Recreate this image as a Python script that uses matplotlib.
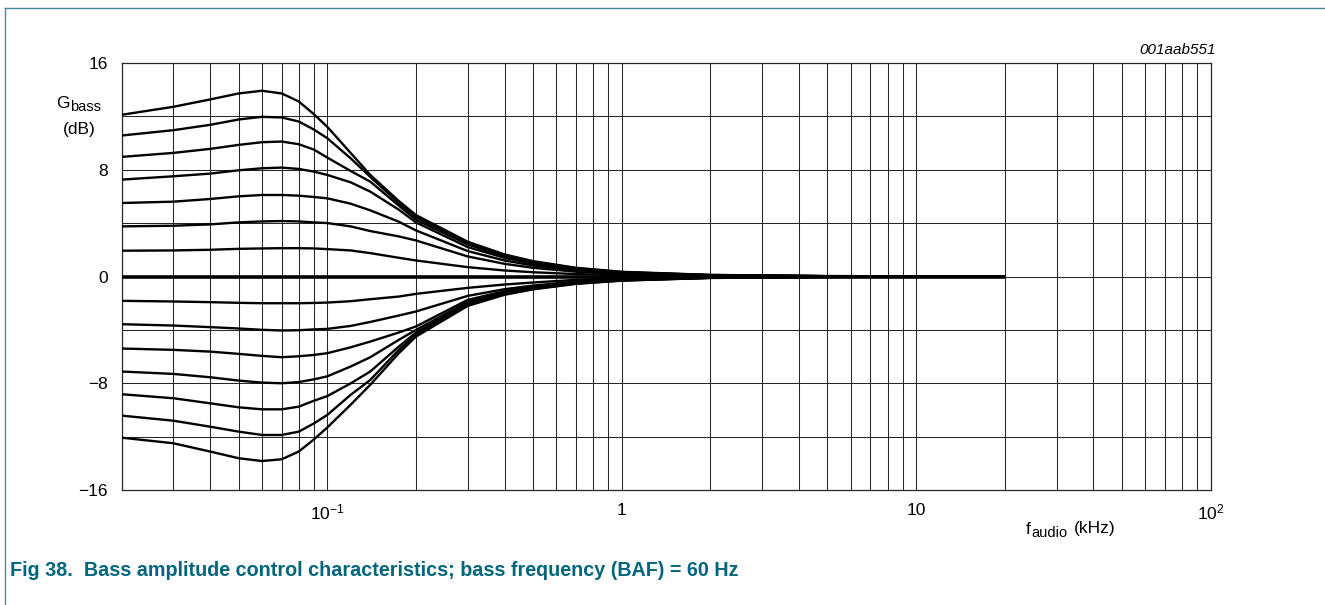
import matplotlib
matplotlib.use("Agg")
import matplotlib.pyplot as plt
from matplotlib.lines import Line2D

plt.rcParams['font.family'] = ['Liberation Sans', 'DejaVu Sans']
plt.rcParams['mathtext.fontset'] = 'custom'
plt.rcParams['mathtext.rm'] = 'Liberation Sans'
plt.rcParams['mathtext.it'] = 'Liberation Sans:italic'

W, H = 1325, 605

# frequency points (kHz)
freq = [0.02, 0.03, 0.04, 0.05, 0.06, 0.07, 0.08, 0.09, 0.1, 0.12, 0.14,
        0.175, 0.2, 0.3, 0.4, 0.5, 0.7, 1, 2, 5, 20]

# bass gain curves (dB), boost settings
g14 = [12.1, 12.7, 13.25, 13.7, 13.9, 13.7, 13.1, 12.15, 11.2, 9.25, 7.6,
       5.65, 4.6, 2.6, 1.65, 1.15, 0.65, 0.35, 0.12, 0.03, 0.0]
g12 = [10.55, 10.95, 11.35, 11.75, 11.95, 11.9, 11.6, 11.0, 10.35, 8.85, 7.45,
       5.5, 4.45, 2.5, 1.6, 1.1, 0.62, 0.33, 0.11, 0.03, 0.0]
g10 = [8.95, 9.25, 9.55, 9.85, 10.05, 10.1, 9.9, 9.5, 8.9, 7.9, 7.1,
       5.3, 4.25, 2.4, 1.5, 1.05, 0.58, 0.31, 0.1, 0.02, 0.0]
g8 = [7.25, 7.5, 7.7, 7.95, 8.1, 8.15, 8.05, 7.85, 7.6, 7.05, 6.35,
      5.0, 4.05, 2.2, 1.4, 0.95, 0.52, 0.28, 0.09, 0.02, 0.0]
g6 = [5.5, 5.6, 5.8, 6.0, 6.1, 6.1, 6.05, 5.95, 5.85, 5.45, 4.95,
      4.1, 3.45, 1.9, 1.2, 0.82, 0.45, 0.24, 0.08, 0.02, 0.0]
g4 = [3.75, 3.8, 3.9, 4.05, 4.12, 4.15, 4.12, 4.05, 4.0, 3.75, 3.4,
      3.0, 2.7, 1.5, 0.95, 0.65, 0.36, 0.19, 0.06, 0.01, 0.0]
g2 = [1.93, 1.95, 2.0, 2.07, 2.1, 2.12, 2.12, 2.1, 2.05, 1.95, 1.75,
      1.4, 1.2, 0.7, 0.45, 0.32, 0.18, 0.1, 0.03, 0.01, 0.0]
g0 = [0.0] * len(freq)

# cut settings
m2 = [-1.82, -1.87, -1.92, -1.97, -2.0, -2.0, -2.0, -1.98, -1.95, -1.85, -1.7,
      -1.5, -1.3, -0.85, -0.6, -0.45, -0.25, -0.13, -0.04, -0.01, 0.0]
m4 = [-3.57, -3.67, -3.79, -3.89, -3.99, -4.04, -4.02, -3.96, -3.92, -3.7, -3.4,
      -2.92, -2.62, -1.45, -0.95, -0.68, -0.38, -0.2, -0.06, -0.02, 0.0]
m6 = [-5.39, -5.49, -5.62, -5.79, -5.94, -6.04, -5.97, -5.87, -5.74, -5.3, -4.87,
      -4.19, -3.74, -1.75, -1.1, -0.78, -0.44, -0.24, -0.08, -0.02, 0.0]
m8 = [-7.11, -7.29, -7.54, -7.79, -7.94, -7.99, -7.9, -7.7, -7.47, -6.74, -6.04,
      -4.74, -4.0, -1.9, -1.2, -0.85, -0.48, -0.26, -0.09, -0.02, 0.0]
m10 = [-8.81, -9.11, -9.49, -9.79, -9.94, -9.94, -9.74, -9.3, -8.95, -8.0, -7.11,
       -5.24, -4.2, -2.0, -1.27, -0.9, -0.51, -0.28, -0.1, -0.03, 0.0]
m12 = [-10.41, -10.79, -11.24, -11.61, -11.86, -11.86, -11.61, -11.0, -10.36, -8.86, -7.74,
       -5.49, -4.35, -2.1, -1.32, -0.93, -0.53, -0.3, -0.1, -0.03, 0.0]
m14 = [-12.06, -12.48, -13.1, -13.6, -13.81, -13.68, -13.1, -12.2, -11.3, -9.6, -8.1,
       -5.74, -4.5, -2.2, -1.37, -0.96, -0.55, -0.31, -0.11, -0.03, 0.0]

curves = [g14, g12, g10, g8, g6, g4, g2, m2, m4, m6, m8, m10, m12, m14]

ytick_vals = [16, 8, 0, -8, -16]
ytick_labels = ['16', '8', '0', '\u22128', '\u221216']
xtick_vals = [0.1, 1, 10, 100]
xtick_labels = [r'$\mathregular{10^{-1}}$', '1', '10', r'$\mathregular{10^{2}}$']


def fx(px):
    return px / W


def fy(py):
    return 1 - py / H


fig = plt.figure(figsize=(W / 100, H / 100), dpi=100)
ax = fig.add_axes([fx(121.5), fy(490.3), 1089 / W, 427.6 / H])

ax.set_xscale('log')
ax.set_xlim(0.02, 100)
ax.set_ylim(-16, 16)

# grid: every log step, every 4 dB
for dec in [0.01, 0.1, 1, 10]:
    for k in range(1, 10):
        f = dec * k
        if 0.02 < f < 100:
            ax.axvline(f, color='0.15', lw=0.75, zorder=1)
for v in range(-12, 16, 4):
    ax.axhline(v, color='0.15', lw=0.75, zorder=1)

for c in curves:
    ax.plot(freq, c, color='black', lw=1.7, zorder=3, solid_joinstyle='round')
ax.plot(freq, g0, color='black', lw=2.6, zorder=3, solid_capstyle='butt')

for s in ax.spines.values():
    s.set_linewidth(0.9)
    s.set_color('0.15')

ax.set_yticks(ytick_vals)
ax.set_yticklabels(ytick_labels, fontsize=12.5)
ax.set_xticks(xtick_vals)
ax.set_xticklabels(xtick_labels, fontsize=12.5)
ax.xaxis.set_minor_locator(matplotlib.ticker.NullLocator())
ax.tick_params(axis='y', length=0, pad=10)
ax.tick_params(axis='x', length=0, pad=9)

# axis labels placed like the datasheet drawing
fig.text(fx(56), fy(103), 'G', fontsize=12.5, ha='left', va='center')
fig.text(fx(70.5), fy(107), 'bass', fontsize=10.5, ha='left', va='center')
fig.text(fx(79.5), fy(130), '(dB)', fontsize=12.5, ha='center', va='center')

fig.text(fx(1026), fy(529), 'f', fontsize=12.5, ha='left', va='center')
fig.text(fx(1031), fy(533), 'audio', fontsize=10.5, ha='left', va='center')
fig.text(fx(1074), fy(529), '(kHz)', fontsize=12.5, ha='left', va='center')

fig.text(fx(1178), fy(50), '001aab551', fontsize=11, style='italic',
         ha='center', va='center')

fig.text(fx(10), fy(571),
         'Fig 38.  Bass amplitude control characteristics; bass frequency (BAF) = 60 Hz',
         fontsize=14.2, fontweight='bold', color='#00657f', ha='left', va='center')

# frame of the figure
fig.add_artist(Line2D([fx(5), fx(5)], [0, fy(8)], color='#3d8aa3', lw=1.0))
fig.add_artist(Line2D([fx(5), 1], [fy(8), fy(8)], color='#3d8aa3', lw=1.0))

fig.savefig('out.png', dpi=100)
